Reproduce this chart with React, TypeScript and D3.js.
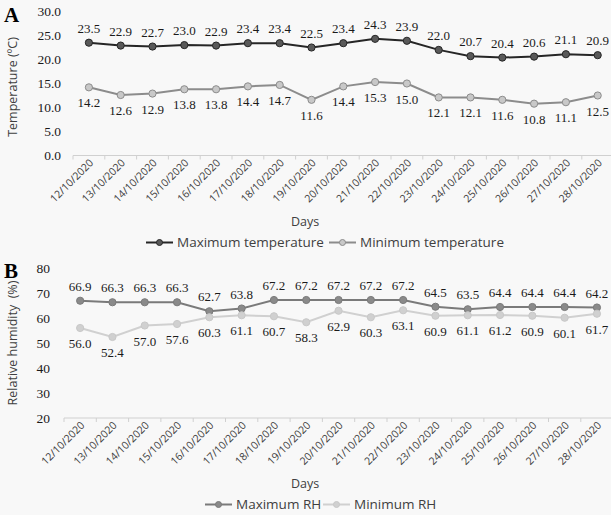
import React from "react";
import * as d3 from "d3";

// Observation days
const days = [
  "12/10/2020", "13/10/2020", "14/10/2020", "15/10/2020", "16/10/2020", "17/10/2020",
  "18/10/2020", "19/10/2020", "20/10/2020", "21/10/2020", "22/10/2020", "23/10/2020",
  "24/10/2020", "25/10/2020", "26/10/2020", "27/10/2020", "28/10/2020",
];

// Panel A: air temperature (°C)
const maxTemperature = [23.5, 22.9, 22.7, 23.0, 22.9, 23.4, 23.4, 22.5, 23.4, 24.3, 23.9, 22.0, 20.7, 20.4, 20.6, 21.1, 20.9];
const minTemperature = [14.2, 12.6, 12.9, 13.8, 13.8, 14.4, 14.7, 11.6, 14.4, 15.3, 15.0, 12.1, 12.1, 11.6, 10.8, 11.1, 12.5];
const temperatureTicks = [0, 5, 10, 15, 20, 25, 30];

// Panel B: relative humidity (%)
const maxRH = [66.9, 66.3, 66.3, 66.3, 62.7, 63.8, 67.2, 67.2, 67.2, 67.2, 67.2, 64.5, 63.5, 64.4, 64.4, 64.4, 64.2];
const minRH = [56.0, 52.4, 57.0, 57.6, 60.3, 61.1, 60.7, 58.3, 62.9, 60.3, 63.1, 60.9, 61.1, 61.2, 60.9, 60.1, 61.7];
const humidityTicks = [20, 30, 40, 50, 60, 70, 80];

const SERIF = "'Liberation Serif', 'Times New Roman', serif";
const SANS = "'Open Sans', 'Noto Sans', sans-serif";

type Series = {
  name: string;
  values: number[];
  line: string;
  fill: string;
  stroke: string;
  labelPos: "above" | "below";
};

type PanelProps = {
  letter: string;
  yTitle: string;
  ticks: number[];
  tickFormat: (v: number) => string;
  yDomain: [number, number];
  yRange: [number, number];
  xStart: number;
  step: number;
  tickRight: number;
  series: Series[];
  daysY: number;
  legendY: number;
  legendX: number[];
  letterY: number;
  titleY: number;
};

function Panel(p: PanelProps) {
  const x = d3
    .scaleBand<string>()
    .domain(days)
    .range([p.xStart, p.xStart + p.step * days.length])
    .paddingInner(0)
    .paddingOuter(0);
  const y = d3.scaleLinear().domain(p.yDomain).range(p.yRange);
  const cx = (d: string) => (x(d) as number) + x.bandwidth() / 2;
  const axisY = y(p.yDomain[0]);
  const line = d3
    .line<number>()
    .x((_, i) => cx(days[i]))
    .y((v) => y(v));
  const boundaries = days.map((d) => x(d) as number).concat([p.xStart + p.step * days.length]);

  return (
    <g>
      <text x={4} y={p.letterY} fontFamily={SERIF} fontWeight="bold" fontSize={21} fill="#000">
        {p.letter}
      </text>
      <text
        transform={`translate(17,${p.titleY}) rotate(-90)`}
        textAnchor="middle"
        fontFamily={SANS}
        fontSize={12.5}
        fill="#404040"
        style={{ whiteSpace: "pre" }}
      >
        {p.yTitle}
      </text>
      {p.ticks.map((t) => (
        <text
          key={t}
          x={p.tickRight}
          y={y(t) + 4.5}
          textAnchor="end"
          fontFamily={SERIF}
          fontSize={13.5}
          fill="#1a1a1a"
        >
          {p.tickFormat(t)}
        </text>
      ))}
      <line x1={p.xStart} x2={p.xStart + p.step * days.length} y1={axisY} y2={axisY} stroke="#d0d0d0" strokeWidth={1} />
      {boundaries.map((b, i) => (
        <line key={i} x1={b} x2={b} y1={axisY} y2={axisY + 4} stroke="#d0d0d0" strokeWidth={1} />
      ))}
      {days.map((d) => (
        <text
          key={d}
          transform={`translate(${cx(d) + 5},${axisY + 8}) rotate(-45)`}
          textAnchor="end"
          fontFamily={SANS}
          fontSize={10.5}
          fill="#404040"
        >
          {d}
        </text>
      ))}
      {p.series.map((s) => (
        <g key={s.name}>
          <path d={line(s.values) || ""} fill="none" stroke={s.line} strokeWidth={2} />
          {s.values.map((v, i) => (
            <circle key={i} cx={cx(days[i])} cy={y(v)} r={3.6} fill={s.fill} stroke={s.stroke} strokeWidth={1} />
          ))}
          {s.values.map((v, i) => (
            <text
              key={"l" + i}
              x={cx(days[i])}
              y={s.labelPos === "above" ? y(v) - 10 : y(v) + 20}
              textAnchor="middle"
              fontFamily={SERIF}
              fontSize={13}
              fill="#1a1a1a"
            >
              {v.toFixed(1)}
            </text>
          ))}
        </g>
      ))}
      <text x={305} y={p.daysY} textAnchor="middle" fontFamily={SANS} fontSize={12.5} fill="#404040">
        Days
      </text>
      {p.series.map((s, i) => {
        const lx = p.legendX[i];
        return (
          <g key={"lg" + s.name}>
            <line x1={lx} x2={lx + 27} y1={p.legendY - 4.5} y2={p.legendY - 4.5} stroke={s.line} strokeWidth={2} />
            <circle cx={lx + 13.5} cy={p.legendY - 4.5} r={3} fill={s.fill} stroke={s.stroke} strokeWidth={1} />
            <text x={lx + 31} y={p.legendY} fontFamily={SANS} fontSize={13.5} fill="#404040">
              {s.name}
            </text>
          </g>
        );
      })}
    </g>
  );
}

export default function App() {
  return (
    <svg
      width={611}
      height={515}
      style={{ position: "absolute", left: 0, top: 0, background: "#f8f8f8" }}
    >
      <rect width={611} height={515} fill="#f8f8f8" />
      <Panel
        letter="A"
        yTitle="Temperature (ºC)"
        ticks={temperatureTicks}
        tickFormat={(v) => v.toFixed(1)}
        yDomain={[0, 30]}
        yRange={[155.5, 11.5]}
        xStart={73}
        step={31.8}
        tickRight={61}
        letterY={22}
        titleY={87}
        daysY={226}
        legendY={247}
        legendX={[146, 329]}
        series={[
          { name: "Maximum temperature", values: maxTemperature, line: "#262626", fill: "#595959", stroke: "#262626", labelPos: "above" },
          { name: "Minimum temperature", values: minTemperature, line: "#8c8c8c", fill: "#c8c8c8", stroke: "#8c8c8c", labelPos: "below" },
        ]}
      />
      <Panel
        letter="B"
        yTitle="Relative humidity  (%)"
        ticks={humidityTicks}
        tickFormat={(v) => String(v)}
        yDomain={[20, 80]}
        yRange={[418, 268]}
        xStart={64}
        step={32.3}
        tickRight={50}
        letterY={278}
        titleY={343}
        daysY={488}
        legendY={509}
        legendX={[205, 323]}
        series={[
          { name: "Maximum RH", values: maxRH, line: "#7a7a7a", fill: "#8a8a8a", stroke: "#7a7a7a", labelPos: "above" },
          { name: "Minimum RH", values: minRH, line: "#d0d0d0", fill: "#d0d0d0", stroke: "#c8c8c8", labelPos: "below" },
        ]}
      />
    </svg>
  );
}
